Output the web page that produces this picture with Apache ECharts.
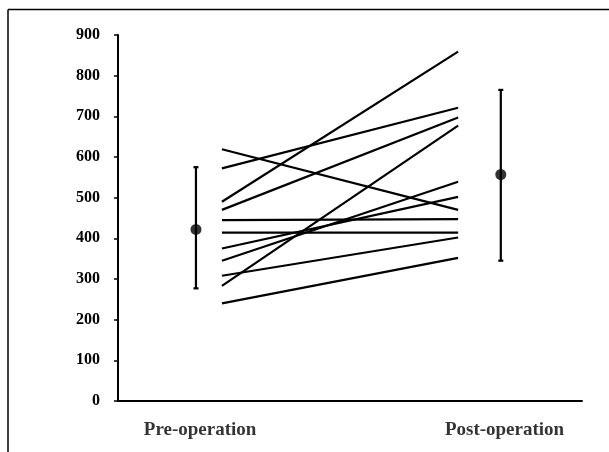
<!DOCTYPE html>
<html>
<head>
<meta charset="utf-8">
<script src="https://cdn.jsdelivr.net/npm/echarts@6/dist/echarts.min.js"></script>
<style>
html,body{margin:0;padding:0;background:#fff;}
#chart{width:609px;height:452px;}
</style>
</head>
<body>
<div id="chart"></div>
<script>
// ---- data ----
const groups = ['Pre-operation', 'Post-operation'];
const preValues  = [619, 572, 490, 470, 445, 414, 375, 345, 308, 283, 240];
const postValues = [470, 721, 859, 697, 447, 414, 502, 539, 402, 677, 352];
const means = [422, 557];
const lows  = [277, 345];
const highs = [575, 765];
const yTicks = [0, 100, 200, 300, 400, 500, 600, 700, 800, 900];

// ---- layout (x positions on a 0..10 horizontal scale) ----
const groupX = [1.68, 8.25];
const labelX = [1.77, 8.33];
const lineX = [2.24, 7.33];

const font = '"Liberation Serif", "Times New Roman", serif';

const series = [];
preValues.forEach((v, i) => {
  series.push({
    type: 'line',
    data: [[lineX[0], v], [lineX[1], postValues[i]]],
    symbol: 'none',
    lineStyle: { color: '#000', width: 2.2 },
    silent: true,
    z: 2
  });
});

series.push({
  type: 'custom',
  data: groups.map((g, i) => [groupX[i], lows[i], highs[i]]),
  renderItem: function (params, api) {
    const x = api.value(0);
    const lo = api.coord([x, api.value(1)]);
    const hi = api.coord([x, api.value(2)]);
    const cap = 2.5;
    const st = { stroke: '#000', lineWidth: 2.2 };
    return {
      type: 'group',
      children: [
        { type: 'line', shape: { x1: lo[0], y1: lo[1], x2: hi[0], y2: hi[1] }, style: st },
        { type: 'line', shape: { x1: lo[0] - cap, y1: lo[1], x2: lo[0] + cap, y2: lo[1] }, style: st },
        { type: 'line', shape: { x1: hi[0] - cap, y1: hi[1], x2: hi[0] + cap, y2: hi[1] }, style: st }
      ]
    };
  },
  z: 3
});

series.push({
  type: 'scatter',
  data: groups.map((g, i) => [groupX[i], means[i]]),
  symbol: 'circle',
  symbolSize: 11,
  itemStyle: { color: '#000' },
  z: 4
});

// category labels under the x axis
series.push({
  type: 'scatter',
  data: groups.map((g, i) => ({ value: [labelX[i], yTicks[0]], name: g })),
  symbolSize: 0,
  clip: false,
  silent: true,
  label: {
    show: true,
    position: 'bottom',
    distance: 20,
    formatter: p => p.name,
    fontFamily: font,
    fontWeight: 'bold',
    fontSize: 19,
    color: '#000'
  }
});

const chart = echarts.init(document.getElementById('chart'), null, { renderer: 'canvas' });
chart.setOption({
  animation: false,
  backgroundColor: '#fff',
  grid: { left: 118, right: 27, top: 35, bottom: 51 },
  xAxis: {
    type: 'value',
    min: 0,
    max: 10,
    axisLine: { show: true, lineStyle: { color: '#000', width: 2 } },
    axisTick: { show: false },
    axisLabel: { show: false },
    splitLine: { show: false }
  },
  yAxis: {
    type: 'value',
    min: yTicks[0],
    max: yTicks[yTicks.length - 1],
    interval: yTicks[1] - yTicks[0],
    axisLine: { show: true, lineStyle: { color: '#000', width: 2 } },
    axisTick: { show: true, length: 4, lineStyle: { color: '#000', width: 1.5 } },
    axisLabel: { color: '#000', fontFamily: font, fontWeight: 'bold', fontSize: 16, margin: 18 },
    splitLine: { show: false }
  },
  graphic: [
    { type: 'line', shape: { x1: 8, y1: 9.5, x2: 609, y2: 9.5 }, style: { stroke: '#000', lineWidth: 1.5 } },
    { type: 'line', shape: { x1: 8, y1: 9.5, x2: 8, y2: 452 }, style: { stroke: '#000', lineWidth: 1.5 } }
  ],
  series: series
});
</script>
</body>
</html>
